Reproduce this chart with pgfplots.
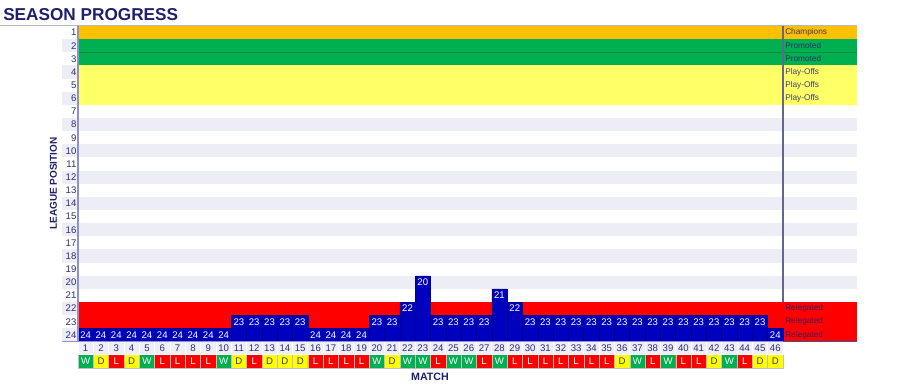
\documentclass[border=0pt]{standalone}
\usepackage{fontspec}
\setmainfont{Liberation Sans}
\usepackage{pgfplots}
\pgfplotsset{compat=1.18}
\definecolor{navy}{HTML}{1F1F6E}
\definecolor{ticknavy}{HTML}{2A2A78}
\definecolor{barblue}{HTML}{0000BF}
\definecolor{barline}{HTML}{00008A}
\definecolor{champ}{HTML}{FFC000}
\definecolor{promo}{HTML}{00B050}
\definecolor{playoff}{HTML}{FFFF66}
\definecolor{releg}{HTML}{FF0000}
\definecolor{lav}{HTML}{EDEDF5}
\definecolor{cellbg}{HTML}{EEEEF6}
\definecolor{axisline}{HTML}{9090CC}
\definecolor{winc}{HTML}{00B050}
\definecolor{drawc}{HTML}{FFFF00}
\definecolor{lossc}{HTML}{FF0000}
\definecolor{dtext}{HTML}{3C3C50}
\newcommand{\band}[5]{\addplot[fill=#1, draw=none, forget plot] coordinates {(#2,#3) (#4,#3) (#4,#5) (#2,#5)} -- cycle;}
\begin{document}
\begin{tikzpicture}
\begin{axis}[
  at={(58.5pt,-256.125pt)}, anchor=south west,
  scale only axis, width=528.75pt, height=236.625pt,
  xmin=0.5, xmax=46.5, ymin=0, ymax=24,
  clip=false, axis on top,
  axis line style={draw=none},
  xtick=\empty,
  ytick={0.5,1.5,...,23.5},
  yticklabels={24,23,22,21,20,19,18,17,16,15,14,13,12,11,10,9,8,7,6,5,4,3,2,1},
  major tick length=0pt,
  tick style={draw=none},
  /pgf/number format/assume math mode=true,
  yticklabel style={font=\fontsize{7.2}{8}\selectfont, text=ticknavy, inner sep=1pt},
]
% bands
\band{champ}{0.5}{23}{51.33}{24}
\band{promo}{0.5}{21}{51.33}{23}
\band{playoff}{0.5}{18}{51.33}{21}
\band{releg}{0.5}{0}{51.33}{3}
\band{lav}{-0.54}{16}{51.33}{17}
\band{lav}{-0.54}{14}{51.33}{15}
\band{lav}{-0.54}{12}{51.33}{13}
\band{lav}{-0.54}{10}{51.33}{11}
\band{lav}{-0.54}{8}{51.33}{9}
\band{lav}{-0.54}{6}{51.33}{7}
\band{lav}{-0.54}{4}{51.33}{5}
\band{lav}{-0.54}{22}{0.5}{23}
\band{lav}{-0.54}{20}{0.5}{21}
\band{lav}{-0.54}{18}{0.5}{19}
\band{lav}{-0.54}{2}{0.5}{3}
\band{lav}{-0.54}{0}{0.5}{1}
\addplot[draw=promo!80!black, line width=0.3pt, forget plot] coordinates {(0.5,22) (51.33,22)};
% position bars (height = 25 - position)
\addplot[ybar, bar width=1, bar shift=0pt, fill=barblue, draw=barline, line width=0.4pt,
  point meta=explicit symbolic, nodes near coords,
  every node near coord/.style={anchor=center, yshift=-4.93pt, font=\fontsize{7.2}{8}\selectfont, text=white, inner sep=0pt}]
coordinates {
(1,1)[24] (2,1)[24] (3,1)[24] (4,1)[24] (5,1)[24] (6,1)[24] (7,1)[24] (8,1)[24] (9,1)[24] (10,1)[24]
(11,2)[23] (12,2)[23] (13,2)[23] (14,2)[23] (15,2)[23]
(16,1)[24] (17,1)[24] (18,1)[24] (19,1)[24]
(20,2)[23] (21,2)[23] (22,3)[22] (23,5)[20]
(24,2)[23] (25,2)[23] (26,2)[23] (27,2)[23]
(28,4)[21] (29,3)[22]
(30,2)[23] (31,2)[23] (32,2)[23] (33,2)[23] (34,2)[23] (35,2)[23] (36,2)[23] (37,2)[23]
(38,2)[23] (39,2)[23] (40,2)[23] (41,2)[23] (42,2)[23] (43,2)[23] (44,2)[23] (45,2)[23]
(46,1)[24]
};
% results
\addplot[ybar, bar width=1, bar shift=0pt, fill=winc, draw=gray!50, line width=0.3pt,
  nodes near coords={W},
  every node near coord/.style={anchor=center, yshift=4.93pt, font=\fontsize{7.2}{8}\selectfont, text=white, inner sep=0pt}]
coordinates {(1,-2) (5,-2) (10,-2) (20,-2) (22,-2) (23,-2) (25,-2) (26,-2) (28,-2) (37,-2) (39,-2) (43,-2)};
\addplot[ybar, bar width=1, bar shift=0pt, fill=drawc, draw=gray!50, line width=0.3pt,
  nodes near coords={D},
  every node near coord/.style={anchor=center, yshift=4.93pt, font=\fontsize{7.2}{8}\selectfont, text=dtext, inner sep=0pt}]
coordinates {(2,-2) (4,-2) (11,-2) (13,-2) (14,-2) (15,-2) (21,-2) (36,-2) (42,-2) (45,-2) (46,-2)};
\addplot[ybar, bar width=1, bar shift=0pt, fill=lossc, draw=gray!50, line width=0.3pt,
  nodes near coords={L},
  every node near coord/.style={anchor=center, yshift=4.93pt, font=\fontsize{7.2}{8}\selectfont, text=white, inner sep=0pt}]
coordinates {(3,-2) (6,-2) (7,-2) (8,-2) (9,-2) (12,-2) (16,-2) (17,-2) (18,-2) (19,-2) (24,-2) (27,-2)
(29,-2) (30,-2) (31,-2) (32,-2) (33,-2) (34,-2) (35,-2) (38,-2) (40,-2) (41,-2) (44,-2)};
% match numbers
\addplot[ybar, bar width=1, bar shift=0pt, fill=cellbg, draw=white, line width=0.6pt,
  point meta=explicit symbolic, nodes near coords,
  every node near coord/.style={anchor=center, yshift=4.93pt, font=\fontsize{7.2}{8}\selectfont, text=ticknavy, inner sep=0pt}]
coordinates {(1,-1)[1] (2,-1)[2] (3,-1)[3] (4,-1)[4] (5,-1)[5] (6,-1)[6] (7,-1)[7] (8,-1)[8] (9,-1)[9] (10,-1)[10]
(11,-1)[11] (12,-1)[12] (13,-1)[13] (14,-1)[14] (15,-1)[15] (16,-1)[16] (17,-1)[17] (18,-1)[18] (19,-1)[19] (20,-1)[20]
(21,-1)[21] (22,-1)[22] (23,-1)[23] (24,-1)[24] (25,-1)[25] (26,-1)[26] (27,-1)[27] (28,-1)[28] (29,-1)[29] (30,-1)[30]
(31,-1)[31] (32,-1)[32] (33,-1)[33] (34,-1)[34] (35,-1)[35] (36,-1)[36] (37,-1)[37] (38,-1)[38] (39,-1)[39] (40,-1)[40]
(41,-1)[41] (42,-1)[42] (43,-1)[43] (44,-1)[44] (45,-1)[45] (46,-1)[46]};
% rules
\draw[axisline, line width=1.1pt] (axis cs:0.5,0) -- (axis cs:0.5,24);
\draw[axisline, line width=0.8pt] (axis cs:-0.54,0) -- (axis cs:46.5,0);
\draw[navy!80, line width=0.8pt] (axis cs:46.5,0) -- (axis cs:51.33,0);
\draw[axisline!70!black, line width=0.8pt] (axis cs:46.5,3) -- (axis cs:46.5,24);
% zone labels
\begin{scope}[every node/.style={anchor=west, xshift=1.5pt, inner sep=0pt, font=\fontsize{6.2}{7}\selectfont, text=navy, text opacity=0.85}]
\node at (axis cs:46.5,23.5) {Champions};
\node at (axis cs:46.5,22.5) {Promoted};
\node at (axis cs:46.5,21.5) {Promoted};
\node at (axis cs:46.5,20.5) {Play-Offs};
\node at (axis cs:46.5,19.5) {Play-Offs};
\node at (axis cs:46.5,18.5) {Play-Offs};
\node at (axis cs:46.5,2.5) {Relegated};
\node at (axis cs:46.5,1.5) {Relegated};
\node at (axis cs:46.5,0.5) {Relegated};
\end{scope}
\end{axis}
\draw[gray!55, line width=0.6pt] (0,-19.125pt) -- (642.75pt,-19.125pt);
\node[anchor=base west, inner sep=0pt, font=\fontsize{12.9}{15}\selectfont\bfseries, text=navy] at (2.25pt,-15pt) {SEASON PROGRESS};
\node[anchor=center, inner sep=0pt, font=\fontsize{8}{9}\selectfont\bfseries, text=navy] at (322.5pt,-282.75pt) {MATCH};
\node[anchor=center, rotate=90, inner sep=0pt, font=\fontsize{7.5}{9}\selectfont\bfseries, text=navy] at (40.1pt,-137.6pt) {LEAGUE POSITION};
\pgfresetboundingbox
\path[use as bounding box] (0,0) rectangle (675pt,-289.5pt);
\end{tikzpicture}
\end{document}
